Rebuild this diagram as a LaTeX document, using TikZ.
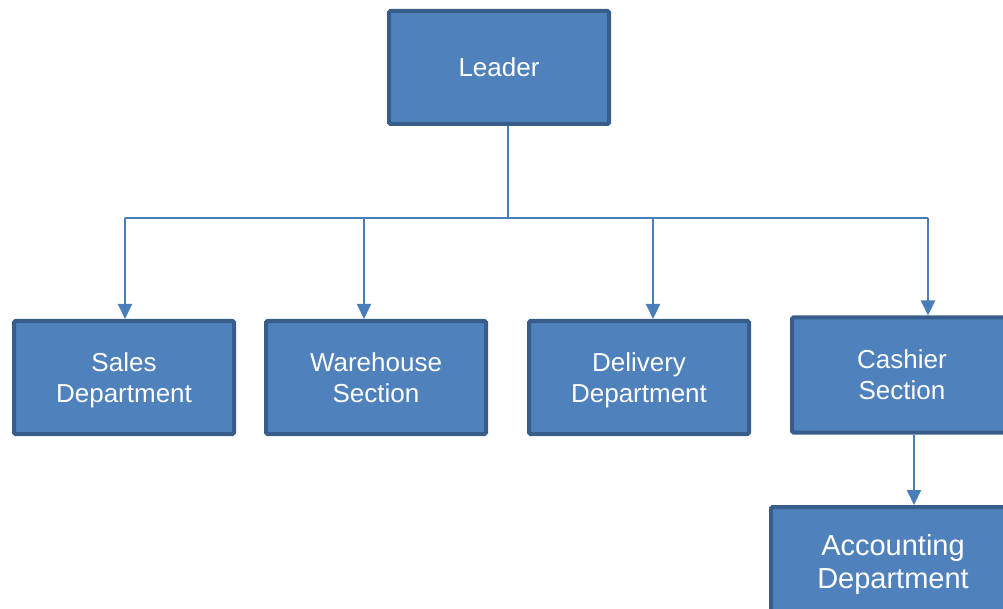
\documentclass[tikz,border=0pt]{standalone}
\usepackage{fontspec}
\setmainfont{Liberation Sans}
\usetikzlibrary{arrows.meta}
\definecolor{boxfill}{HTML}{4F81BD}
\definecolor{boxedge}{HTML}{385D8A}
\definecolor{linkcol}{HTML}{4A7EBB}
\begin{document}
\begin{tikzpicture}[x=1pt,y=-1pt,
  orgbox/.style={draw=boxedge, fill=boxfill, line width=4pt, rounded corners=1.5pt,
    minimum width=220pt, minimum height=113pt, align=center, text=white,
    font=\fontsize{26}{31}\selectfont, inner sep=0pt},
  link/.style={draw=linkcol, line width=2pt},
  arrowlink/.style={link, -{Triangle[length=15pt,width=14pt]}}]
\useasboundingbox (0,0) rectangle (1003,609);
\clip (0,0) rectangle (1003,609);
\node[orgbox] (leader) at (499,67.5) {Leader};
\node[orgbox] (sales) at (124,377.5) {Sales\\\smash{Department}};
\node[orgbox] (warehouse) at (376,377.5) {Warehouse\\Section};
\node[orgbox] (delivery) at (639,377.5) {Delivery\\\smash{Department}};
\node[orgbox, minimum height=115pt] (cashier) at (902,375) {Cashier\\Section};
\node[orgbox, minimum width=244pt, minimum height=108pt,
  font=\fontsize{29}{33}\selectfont] (accounting) at (893,561) {Accounting\\\smash{Department}};
\coordinate (bus) at (508,218);
\coordinate (bL) at (125,218);
\coordinate (bW) at (364,218);
\coordinate (bD) at (653,218);
\coordinate (bC) at (928,218);
\coordinate (cOut) at (914,434);
\draw[link] (leader.south -| bus) -- (bus);
\draw[link] (bL) -- (bC);
\draw[arrowlink] (bL) -- (bL |- sales.north);
\draw[arrowlink] (bW) -- (bW |- warehouse.north);
\draw[arrowlink] (bD) -- (bD |- delivery.north);
\draw[arrowlink] (bC) -- (bC |- cashier.north);
\draw[arrowlink] (cOut |- cashier.south) -- (cOut |- accounting.north);
\end{tikzpicture}
\end{document}
